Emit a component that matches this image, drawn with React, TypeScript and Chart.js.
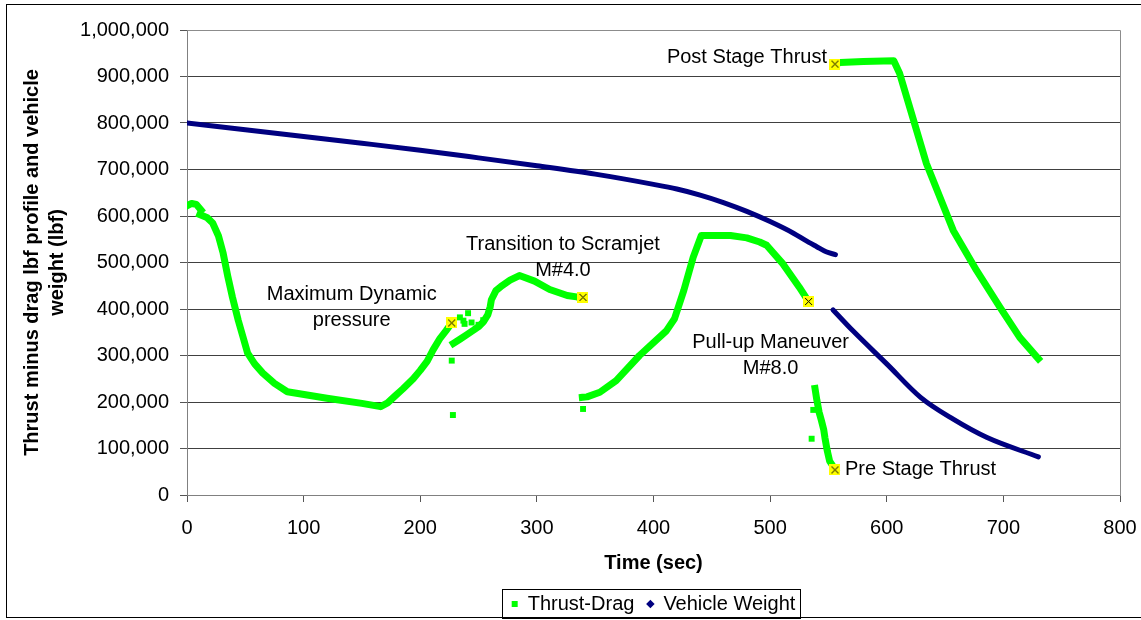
import React, { useEffect, useRef } from 'react';
import { Chart, registerables } from 'chart.js';

Chart.register(...registerables);

// ---------- data ----------
const X_MIN = 0;
const X_MAX = 800;
const X_STEP = 100;
const Y_MIN = 0;
const Y_MAX = 1000000;
const Y_STEP = 100000;

const xAxisTitle = 'Time (sec)';
const yAxisTitle = ['Thrust minus drag lbf profile and vehicle', 'weight (lbf)'];
const seriesNames = ['Thrust-Drag', 'Vehicle Weight'];

// Thrust-Drag trace (null = break in the trace)
const thrustDragTime: (number | null)[] = [
  0, 4, 8, 12, null,
  11, 17, 22, 27, 31, 35, 39, 44, 48, 52, 58, 65, 75, 86, 120, 150, 166, 172, 178, 185, 194, 200, 206, 211, 217, 222, 227, null,
  228.4, 234, 240, 246, 250, 254, 258, 260, 261, 265, 269, 277, 285, 298, 311, 326, 334, 340, null,
  339, 343, 354, 368, 388, 411, 418, 426, 434, 441, 466, 480, 491, 497, 511, 525, 533, null,
  538.5, 540, 542, 544, 546, 547, 549, 551, 556, null,
  556, 560, 580, 606, 611, 623, 634, 657, 677, 697, 714, 730,
];
const thrustDragForce: (number | null)[] = [
  622000, 627000, 625000, 613000, null,
  603000, 597000, 585000, 557000, 520000, 470000, 425000, 375000, 340000, 305000, 282000, 262000, 240000, 222000, 208000, 197000, 190000, 198000, 212000, 228000, 250000, 268000, 288000, 312000, 337000, 353000, 370000, null,
  326000, 335000, 345000, 355000, 362000, 372000, 388000, 405000, 420000, 440000, 448000, 462000, 472000, 460000, 442000, 429000, 426000, 425000, null,
  210000, 211000, 221000, 246000, 300000, 353000, 379000, 440000, 511000, 558000, 558000, 553000, 544000, 537000, 497000, 447000, 416000, null,
  229000, 205000, 178000, 160000, 140000, 123000, 95000, 73000, 54000, null,
  926000, 930000, 932000, 934000, 907000, 806000, 713000, 569000, 483000, 404000, 339000, 293000,
];

// Isolated Thrust-Drag samples
const thrustDragStrayTime = [227, 228, 234, 237, 238, 241, 244, 250, 254, 339.6, 537, 535.6];
const thrustDragStrayForce = [289000, 172000, 382000, 375000, 368000, 391000, 371000, 366000, 376000, 185000, 183000, 121000];

// Vehicle weight (null = break at staging)
const weightTime: (number | null)[] = [
  0, 50, 100, 150, 200, 250, 300, 350, 400, 420, 440, 460, 480, 500, 520, 530, 540, 548, 556, null,
  554, 571, 600, 629, 657, 686, 730,
];
const weightValue: (number | null)[] = [
  800000, 785500, 771000, 756500, 741500, 725000, 708000, 690000, 668000, 658000, 645000, 629000, 610000, 588000, 563000, 548000, 534000, 523000, 517000, null,
  398000, 353000, 282000, 210000, 163000, 123500, 82000,
];

// Event markers
const eventTime = [227, 339.5, 533, 555.6, 555.6];
const eventValue = [370000, 425000, 416000, 54000, 926700];
const eventLabels: string[][] = [
  ['Maximum Dynamic', 'pressure'],
  ['Transition to Scramjet', 'M#4.0'],
  ['Pull-up Maneuver', 'M#8.0'],
  ['Pre Stage Thrust'],
  ['Post Stage Thrust'],
];

// ---------- label layout (pixel offsets from marker) ----------
const eventLabelLayout = [
  { dx: -100, dy: -28, align: 'center' as CanvasTextAlign },
  { dx: -20, dy: -53, align: 'center' as CanvasTextAlign },
  { dx: -38, dy: 41, align: 'center' as CanvasTextAlign },
  { dx: 10, dy: 0, align: 'left' as CanvasTextAlign },
  { dx: -8, dy: -7, align: 'right' as CanvasTextAlign },
];

const GREEN = '#00FF00';
const NAVY = '#000080';
const FONT = "'Liberation Sans', Arial, sans-serif";
const FS = 20;

const toPoints = (xs: (number | null)[], ys: (number | null)[]) =>
  xs.map((x, i) => ({ x: x as number, y: ys[i] as number }));

function makeMarker(): HTMLCanvasElement {
  const c = document.createElement('canvas');
  c.width = 11;
  c.height = 11;
  const g = c.getContext('2d')!;
  g.fillStyle = '#FFFF00';
  g.fillRect(0, 0, 11, 11);
  g.strokeStyle = '#000';
  g.lineWidth = 1;
  g.beginPath();
  g.moveTo(2, 2);
  g.lineTo(9, 9);
  g.moveTo(9, 2);
  g.lineTo(2, 9);
  g.stroke();
  return c;
}

const framePlugin = {
  id: 'frames',
  beforeDatasetsDraw(chart: any) {
    const { ctx, chartArea } = chart;
    ctx.save();
    ctx.strokeStyle = '#8c8c8c';
    ctx.lineWidth = 1;
    ctx.beginPath();
    ctx.moveTo(Math.round(chartArea.left) + 0.5, Math.round(chartArea.top) + 0.5);
    ctx.lineTo(Math.round(chartArea.right) + 0.5, Math.round(chartArea.top) + 0.5);
    ctx.lineTo(Math.round(chartArea.right) + 0.5, Math.round(chartArea.bottom) + 0.5);
    ctx.stroke();
    ctx.restore();
  },
  afterDraw(chart: any) {
    const { ctx } = chart;
    ctx.save();
    ctx.strokeStyle = '#000';
    ctx.lineWidth = 1;
    ctx.strokeRect(6.5, 4.5, 1145, 613);
    const hb = chart.legend && chart.legend.legendHitBoxes;
    if (hb && hb.length) {
      const first = hb[0];
      const last = hb[hb.length - 1];
      const l = Math.round(first.left - 10) + 0.5;
      const r = Math.round(last.left + last.width + 5) + 0.5;
      const cy = first.top + first.height / 2;
      const t = Math.round(cy - 15) + 0.5;
      const b = Math.round(cy + 14) + 0.5;
      ctx.strokeRect(l, t, r - l, b - t);
    }
    ctx.restore();
  },
  afterDatasetsDraw(chart: any) {
    const { ctx } = chart;
    const xs = chart.scales.x;
    const ys = chart.scales.y;
    ctx.save();
    ctx.fillStyle = '#000';
    ctx.font = `${FS}px ${FONT}`;
    ctx.textBaseline = 'middle';
    eventLabels.forEach((lines, i) => {
      const px = xs.getPixelForValue(eventTime[i]);
      const py = ys.getPixelForValue(eventValue[i]);
      const lay = eventLabelLayout[i];
      ctx.textAlign = lay.align;
      lines.forEach((line, j) => {
        ctx.fillText(line, px + lay.dx, py + lay.dy + j * 26);
      });
    });
    ctx.restore();
  },
};

export default function App() {
  const ref = useRef<HTMLCanvasElement | null>(null);

  useEffect(() => {
    if (!ref.current) return;
    const marker = makeMarker();
    const chart = new Chart(ref.current, {
      type: 'scatter',
      data: {
        datasets: [
          {
            label: seriesNames[0],
            data: toPoints(thrustDragTime, thrustDragForce),
            showLine: true,
            borderColor: GREEN,
            backgroundColor: GREEN,
            borderWidth: 7,
            borderCapStyle: 'square',
            borderJoinStyle: 'round',
            pointRadius: 0,
            spanGaps: false,
            order: 3,
          } as any,
          {
            label: seriesNames[1],
            data: toPoints(weightTime, weightValue),
            showLine: true,
            borderColor: NAVY,
            backgroundColor: NAVY,
            borderWidth: 5,
            borderCapStyle: 'round',
            borderJoinStyle: 'round',
            cubicInterpolationMode: 'monotone',
            pointRadius: 0,
            spanGaps: false,
            order: 2,
          } as any,
          {
            label: 'stray',
            data: toPoints(thrustDragStrayTime, thrustDragStrayForce),
            showLine: false,
            pointStyle: 'rect',
            pointRadius: 4.2,
            backgroundColor: GREEN,
            borderColor: GREEN,
            borderWidth: 0,
            order: 1,
          } as any,
          {
            label: 'events',
            data: toPoints(eventTime, eventValue),
            showLine: false,
            pointStyle: marker,
            pointRadius: 6,
            order: 0,
          } as any,
        ],
      },
      options: {
        animation: false,
        responsive: false,
        events: [],
        layout: { padding: { left: 0, top: 30, right: 21, bottom: 16 } },
        plugins: {
          tooltip: { enabled: false },
          legend: {
            position: 'bottom',
            fullSize: false,
            labels: {
              usePointStyle: true,
              boxWidth: 6,
              boxHeight: 6,
              padding: 13,
              color: '#000',
              font: { family: FONT, size: FS },
              generateLabels: () => [
                {
                  text: seriesNames[0],
                  fillStyle: GREEN,
                  strokeStyle: GREEN,
                  lineWidth: 0,
                  pointStyle: 'rect',
                  hidden: false,
                  datasetIndex: 0,
                  fontColor: '#000',
                },
                {
                  text: seriesNames[1],
                  fillStyle: NAVY,
                  strokeStyle: NAVY,
                  lineWidth: 0,
                  pointStyle: 'rectRot',
                  hidden: false,
                  datasetIndex: 1,
                  fontColor: '#000',
                },
              ],
            },
          },
        },
        scales: {
          x: {
            type: 'linear',
            min: X_MIN,
            max: X_MAX,
            ticks: {
              stepSize: X_STEP,
              padding: 14,
              color: '#000',
              font: { family: FONT, size: FS },
            },
            grid: { drawOnChartArea: false, tickLength: 7, tickColor: '#555' },
            border: { color: '#808080', width: 1 },
            title: {
              display: true,
              text: xAxisTitle,
              color: '#000',
              font: { family: FONT, size: FS, weight: 'bold', lineHeight: 1.2 },
              padding: { top: 0, bottom: 6 },
            },
            afterFit: (s: any) => {
              s.height = 86;
              s.paddingRight = 0;
              s.paddingLeft = 0;
            },
          },
          y: {
            type: 'linear',
            min: Y_MIN,
            max: Y_MAX,
            ticks: {
              stepSize: Y_STEP,
              padding: 11,
              color: '#000',
              font: { family: FONT, size: FS },
              callback: (v: any) => Number(v).toLocaleString('en-US'),
            },
            grid: { color: '#404040', tickLength: 7, tickColor: '#555' },
            border: { color: '#808080', width: 1 },
            title: {
              display: true,
              text: yAxisTitle,
              color: '#000',
              font: { family: FONT, size: FS, weight: 'bold', lineHeight: 1.25 },
              padding: { top: 19.5, bottom: 0 },
            },
            afterFit: (s: any) => {
              s.width = 187;
            },
          },
        },
      } as any,
      plugins: [framePlugin],
    });
    return () => chart.destroy();
  }, []);

  return (
    <div
      style={{
        position: 'fixed',
        left: 0,
        top: 0,
        width: 1141,
        height: 620,
        overflow: 'hidden',
        background: '#fff',
      }}
    >
      <canvas ref={ref} width={1141} height={640} style={{ display: 'block' }} />
    </div>
  );
}
